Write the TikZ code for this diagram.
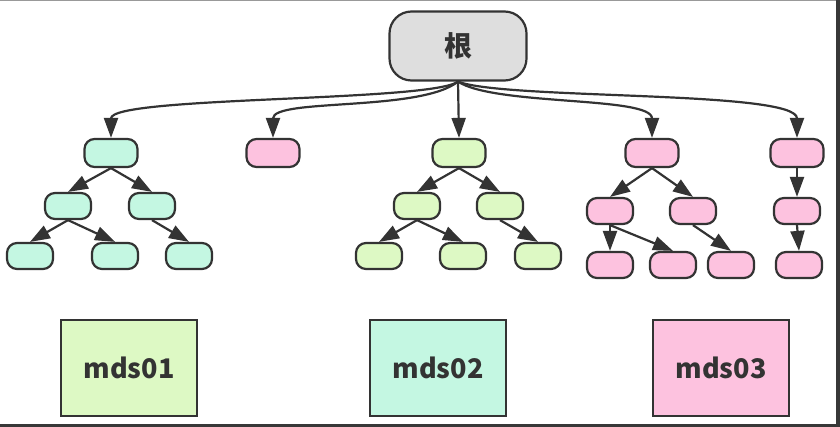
\documentclass[tikz,border=0pt]{standalone}
\usepackage{fontspec}
\newfontfamily\cjk{Noto Sans CJK SC}
\usepackage{tikz}
\usetikzlibrary{
  arrows.meta,
  positioning
}
\definecolor{edge}{HTML}{333333}
\definecolor{mint}{HTML}{C4F7E2}
\definecolor{lime}{HTML}{DDF9C4}
\definecolor{rose}{HTML}{FDC2DF}
\definecolor{rootgrey}{HTML}{DEDEDE}

\begin{document}
\begin{tikzpicture}[
      x=1pt,y=1pt,
      box/.style={
         rectangle,
         rounded corners=10pt,
         draw=edge,
         line width=2.2pt,
         inner sep=0pt
      },
      leaf/.style={box, minimum width=46pt, minimum height=26pt},
      head/.style={box, minimum width=53pt, minimum height=28pt},
      server/.style={
         rectangle,
         draw=edge,
         line width=2.2pt,
         minimum width=136pt,
         minimum height=96pt,
         font=\cjk\bfseries\fontsize{27pt}{30pt}\selectfont,
         text=edge
      },
      tip/.style={-{Triangle[length=20pt,width=14pt]}, line width=2.2pt, draw=edge},
    ]
    \useasboundingbox (0,0) rectangle (840,-427);
    % frame edges
    \fill[black!40] (0,0) rectangle (836,-1.5);
    \fill[black!78] (836,0) rectangle (840,-427);
    \fill[black!78] (0,-424) rectangle (840,-427);

    % root
    \node (root) [box, rounded corners=22pt, fill=rootgrey, minimum width=137pt,
       minimum height=69pt, font=\cjk\bfseries\fontsize{28pt}{30pt}\selectfont,
       text=edge] at (458,-46) {根};

    % first tree
    \node (a1) [head, fill=mint] at (111,-153) {};
    \node (a2) [leaf, fill=mint] at (68,-206) {};
    \node (a3) [leaf, fill=mint] at (152,-206) {};
    \node (a4) [leaf, fill=mint] at (30,-256) {};
    \node (a5) [leaf, fill=mint] at (115,-256) {};
    \node (a6) [leaf, fill=mint] at (189,-256) {};

    % single node
    \node (b1) [head, fill=rose] at (273,-153) {};

    % second tree
    \node (c1) [head, fill=lime] at (459,-153) {};
    \node (c2) [leaf, fill=lime] at (417,-206) {};
    \node (c3) [leaf, fill=lime] at (500,-206) {};
    \node (c4) [leaf, fill=lime] at (379,-256) {};
    \node (c5) [leaf, fill=lime] at (463,-256) {};
    \node (c6) [leaf, fill=lime] at (538,-256) {};

    % third tree
    \node (d1) [head, fill=rose] at (652,-153) {};
    \node (d2) [leaf, fill=rose] at (610,-211) {};
    \node (d3) [leaf, fill=rose] at (693,-211) {};
    \node (d4) [leaf, fill=rose] at (610,-265) {};
    \node (d5) [leaf, fill=rose] at (673,-265) {};
    \node (d6) [leaf, fill=rose] at (731,-265) {};

    % column
    \node (e1) [head, fill=rose] at (797,-153) {};
    \node (e2) [leaf, fill=rose] at (797,-211) {};
    \node (e3) [leaf, fill=rose] at (799,-265) {};

    % servers
    \node (mds01) [server, fill=lime] at (129,-368) {mds01};
    \node (mds02) [server, fill=mint] at (438,-368) {mds02};
    \node (mds03) [server, fill=rose] at (721,-368) {mds03};

    % root links
    \draw [tip] (root.south) .. controls (430,-102) and (111,-96) .. (a1.north);
    \draw [tip] (root.south) .. controls (420,-112) and (273,-98) .. (b1.north);
    \draw [tip] (root.south) -- (c1.north);
    \draw [tip] (root.south) .. controls (495,-106) and (652,-96) .. (d1.north);
    \draw [tip] (root.south) .. controls (505,-100) and (797,-90) .. (e1.north);

    % tree links
    \draw [tip] (a1.south) -- (a2.north);
    \draw [tip] (a1.south) -- (a3.north);
    \draw [tip] (a2.south) -- (a4.north);
    \draw [tip] (a2.south) -- (a5.north);
    \draw [tip] (a3.south) -- (a6.north);

    \draw [tip] (c1.south) -- (c2.north);
    \draw [tip] (c1.south) -- (c3.north);
    \draw [tip] (c2.south) -- (c4.north);
    \draw [tip] (c2.south) -- (c5.north);
    \draw [tip] (c3.south) -- (c6.north);

    \draw [tip] (d1.south) -- (d2.north);
    \draw [tip] (d1.south) -- (d3.north);
    \draw [tip] (d2.south) -- (d4.north);
    \draw [tip] (d2.south) -- (d5.north);
    \draw [tip] (d3.south) -- (d6.north);

    \draw [tip] (e1.south) -- (e2.north);
    \draw [tip] (e2.south) -- (e3.north);
\end{tikzpicture}
\end{document}
